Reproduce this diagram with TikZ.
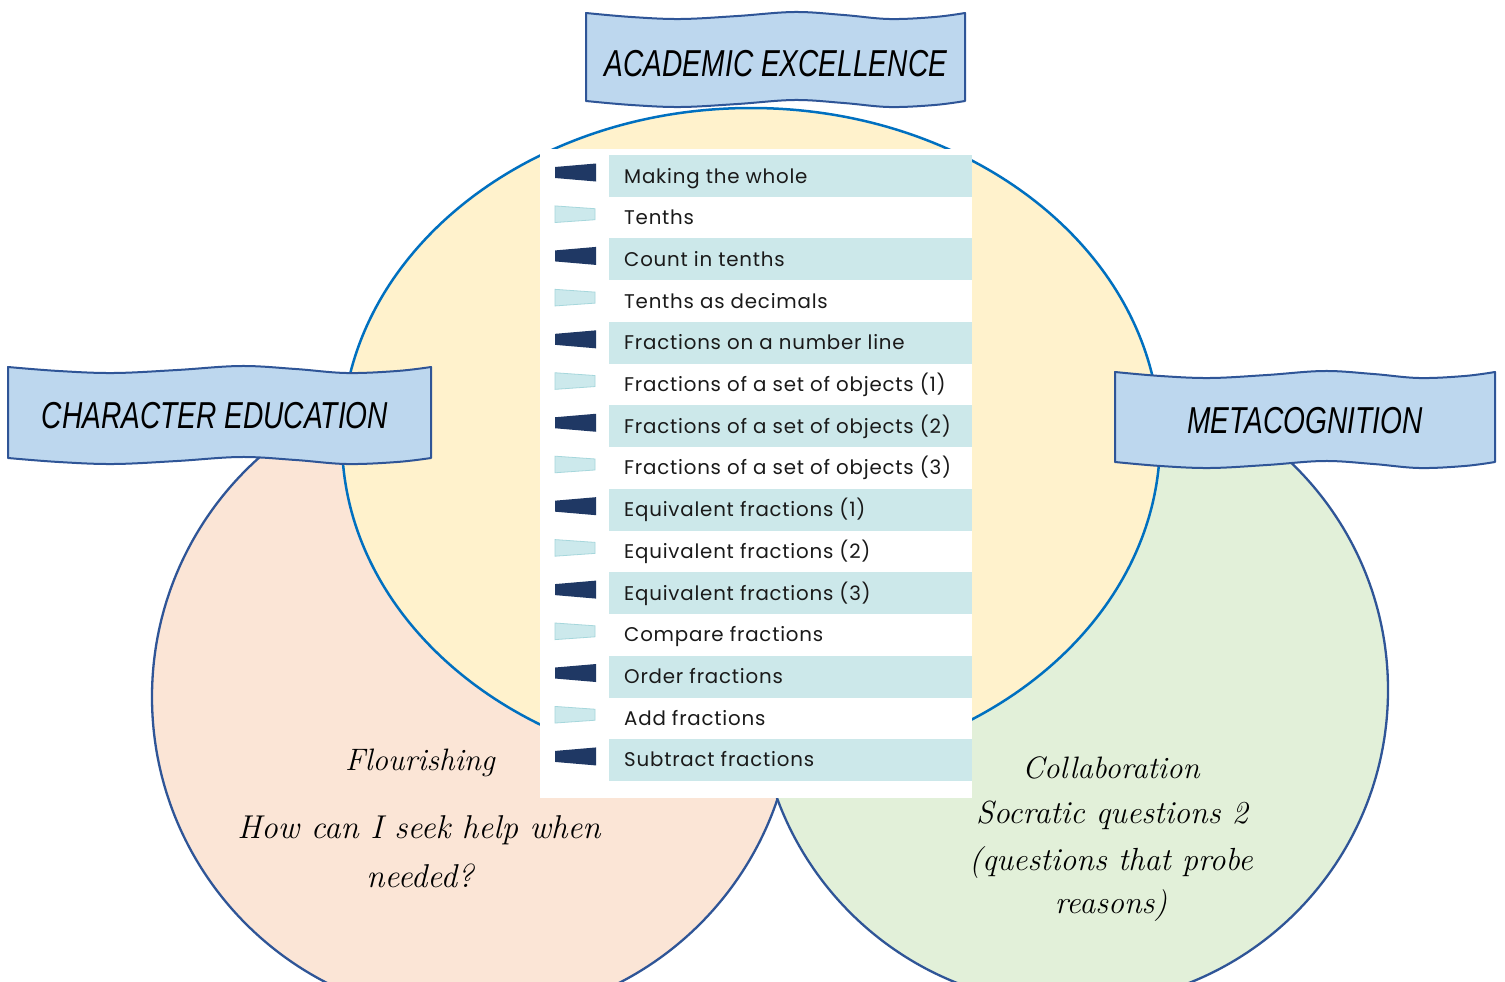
\documentclass[tikz,border=0pt]{standalone}
\usepackage{fontspec}
\newfontfamily\listfont[LetterSpace=4]{Poppins}
\newfontfamily\bannerfont[FakeStretch=0.75]{Liberation Sans}
\definecolor{yellowfill}{HTML}{FFF2CC}
\definecolor{pinkfill}{HTML}{FBE5D6}
\definecolor{greenfill}{HTML}{E2F0D9}
\definecolor{bannerfill}{HTML}{BDD7EE}
\definecolor{bannerline}{HTML}{2F5597}
\definecolor{circleline}{HTML}{2F5597}
\definecolor{yellowline}{HTML}{0070C0}
\definecolor{bandc}{HTML}{CCE8EA}
\definecolor{darkm}{HTML}{1F3864}
\definecolor{lightm}{HTML}{CCE9EC}
\definecolor{lightmd}{HTML}{A6D7DC}
\definecolor{listtextc}{HTML}{1A1A1A}
\tikzset{
  bannerstyle/.style={fill=bannerfill, draw=bannerline, line width=2pt, line join=round},
  bannertext/.style={font=\bannerfont\itshape\fontsize{37.5}{40}\selectfont, inner sep=0, anchor=base, text=black},
  listtext/.style={font=\listfont\fontsize{19.8}{22}\selectfont, inner sep=0, anchor=base west, text=listtextc},
  scripttext/.style={font=\itshape\fontsize{32}{36}\selectfont, inner sep=0, anchor=base, text=black},
}
\newcommand\wavebanner[4]{%
  \filldraw[bannerstyle] plot[smooth,tension=0.6] coordinates {
    (#1,#3) ({#1+0.12*(#2-#1)},{#3+4}) ({#1+0.25*(#2-#1)},{#3+6}) ({#1+0.4*(#2-#1)},{#3+3})
    ({#1+0.55*(#2-#1)},{#3-1}) ({#1+0.68*(#2-#1)},{#3+2}) ({#1+0.8*(#2-#1)},{#3+6})
    ({#1+0.92*(#2-#1)},{#3+4}) (#2,#3)}
  -- plot[smooth,tension=0.6] coordinates {
    (#2,#4) ({#1+0.92*(#2-#1)},{#4+4}) ({#1+0.8*(#2-#1)},{#4+6}) ({#1+0.68*(#2-#1)},{#4+2})
    ({#1+0.55*(#2-#1)},{#4-1}) ({#1+0.4*(#2-#1)},{#4+3}) ({#1+0.25*(#2-#1)},{#4+6})
    ({#1+0.12*(#2-#1)},{#4+4}) (#1,#4)} -- cycle;}
\begin{document}
\begin{tikzpicture}[x=1pt,y=-1pt]
\useasboundingbox (0,0) rectangle (1505,982);
\clip (0,0) rectangle (1505,982);
\fill[white] (0,0) rectangle (1505,982);
% circles
\filldraw[fill=pinkfill, draw=circleline, line width=2.3pt] (473,697) circle[radius=321pt];
\filldraw[fill=greenfill, draw=circleline, line width=2.3pt] (1073,690) circle[radius=315pt];
\filldraw[fill=yellowfill, draw=yellowline, line width=2.5pt] (751,440) ellipse[x radius=409pt, y radius=332pt];
% banners
\wavebanner{586}{965}{13}{101}
\node[bannertext] (academic) at (776,77) {ACADEMIC EXCELLENCE};
\wavebanner{8}{431}{367}{458}
\node[bannertext] (character) at (215,428) {CHARACTER EDUCATION};
\wavebanner{1115}{1495}{372}{462}
\node[bannertext] (metacog) at (1305,433) {METACOGNITION};
% list box
\node[fill=white, anchor=north west, minimum width=432pt, minimum height=649pt, inner sep=0, outer sep=0] (listbox) at (540,149) {};
\foreach \t [count=\i] in {Making the whole, Tenths, Count in tenths, Tenths as decimals,
  Fractions on a number line, Fractions of a set of objects (1), Fractions of a set of objects (2),
  Fractions of a set of objects (3), Equivalent fractions (1), Equivalent fractions (2),
  Equivalent fractions (3), Compare fractions, Order fractions, Add fractions, Subtract fractions}{
  \pgfmathsetmacro\cy{176+(\i-1)*41.71}
  \pgfmathsetmacro\my{\cy-3.5}
  \ifodd\i
    \fill[bandc] (609,{\cy-21}) rectangle (972,{\cy+21});
    \fill[darkm] (555,{\my-5.5}) -- (596,{\my-9}) -- (596,{\my+9}) -- (555,{\my+5.5}) -- cycle;
  \else
    \filldraw[fill=lightm, draw=lightmd, line width=0.8pt] (555,{\my-8.3}) -- (595,{\my-5.5}) -- (595,{\my+5.5}) -- (555,{\my+8.3}) -- cycle;
  \fi
  \node[listtext] (row\i) at (624,{\cy+7}) {\t};
}
% script texts
\node[scripttext, font=\itshape\fontsize{31}{36}\selectfont] (flour) at (420,770) {Flourishing};
\node[scripttext, font=\itshape\fontsize{33}{36}\selectfont] (help1) at (419,838) {How can I seek help when};
\node[scripttext, font=\itshape\fontsize{33}{36}\selectfont] (help2) at (420,887) {needed?};
\node[scripttext, font=\itshape\fontsize{31}{36}\selectfont] (collab) at (1111,778) {Collaboration};
\node[scripttext] (socr1) at (1112,823) {Socratic questions 2};
\node[scripttext] (socr2) at (1111,870) {(questions that probe};
\node[scripttext] (socr3) at (1111,913) {reasons)};
\end{tikzpicture}
\end{document}
